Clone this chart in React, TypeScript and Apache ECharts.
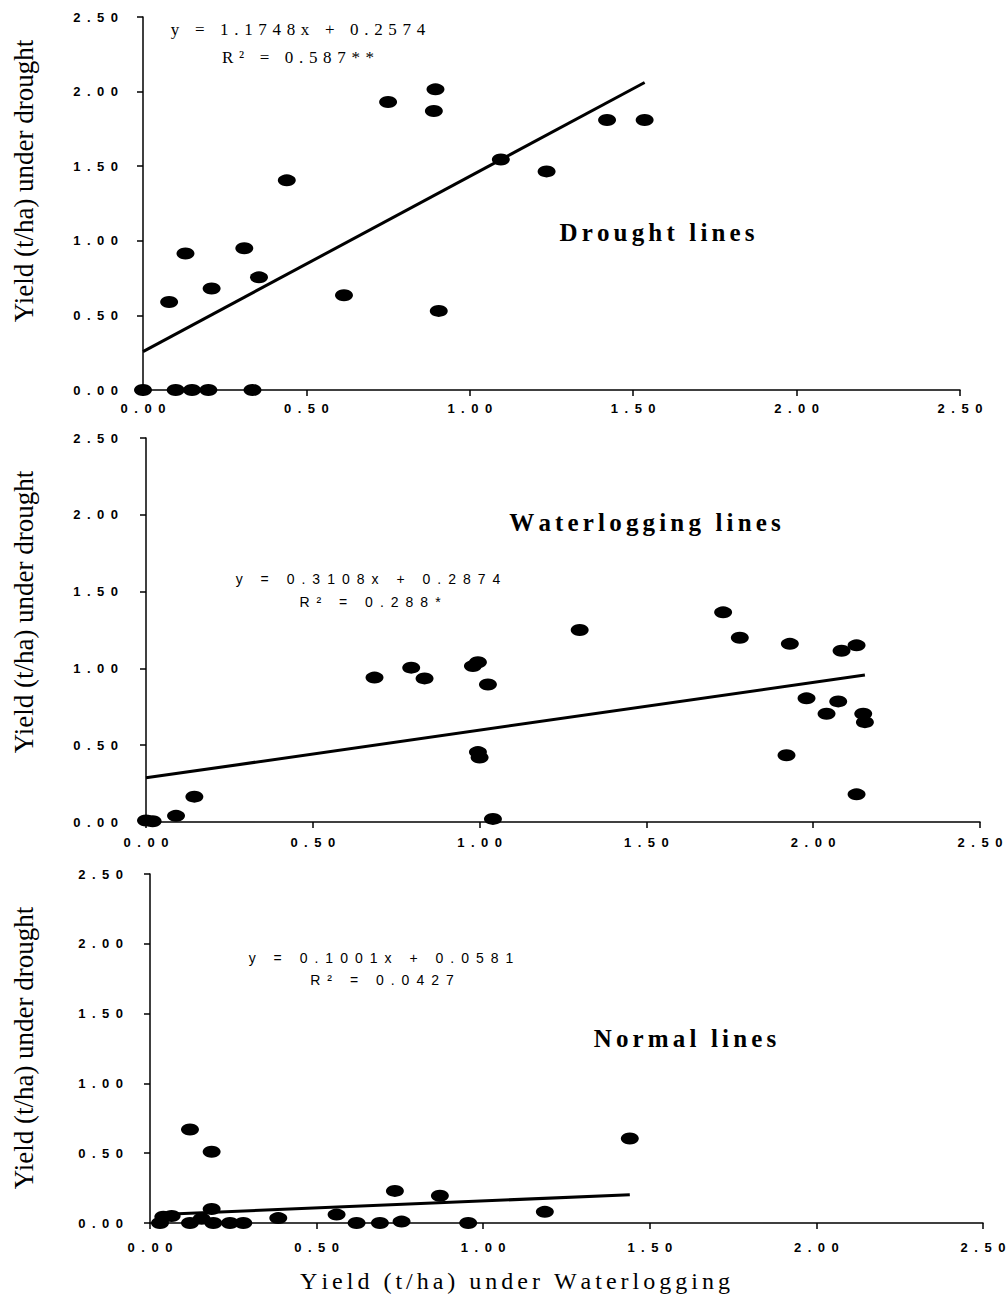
import React, { useEffect, useRef } from "react";
import * as echarts from "echarts";

// ---- Data ----
const droughtX = [0.0, 0.1, 0.15, 0.2, 0.335, 0.08, 0.13, 0.21, 0.31, 0.355, 0.44, 0.615, 0.75, 0.895, 0.89, 0.905, 1.095, 1.235, 1.42, 1.535];
const droughtY = [0.0, 0.0, 0.0, 0.0, 0.0, 0.59, 0.915, 0.68, 0.95, 0.755, 1.405, 0.635, 1.93, 2.015, 1.87, 0.53, 1.545, 1.465, 1.81, 1.81];

const waterX = [0.0, 0.02, 0.09, 0.145, 0.685, 0.795, 0.835, 0.98, 0.995, 1.025, 0.995, 1.0, 1.04, 1.3, 1.73, 1.78, 1.93, 2.085, 2.13, 1.98, 2.075, 2.04, 2.15, 2.155, 1.92, 2.13];
const waterY = [0.01, 0.005, 0.04, 0.165, 0.94, 1.005, 0.935, 1.015, 1.04, 0.895, 0.455, 0.42, 0.02, 1.25, 1.365, 1.2, 1.16, 1.115, 1.15, 0.805, 0.785, 0.705, 0.705, 0.65, 0.435, 0.18];

const normalX = [0.03, 0.04, 0.065, 0.12, 0.12, 0.155, 0.185, 0.185, 0.19, 0.24, 0.28, 0.385, 0.56, 0.62, 0.69, 0.755, 0.735, 0.87, 0.955, 1.185, 1.44];
const normalY = [0.0, 0.045, 0.05, 0.0, 0.67, 0.03, 0.1, 0.51, 0.0, 0.0, 0.0, 0.035, 0.06, 0.0, 0.0, 0.01, 0.23, 0.195, 0.0, 0.08, 0.605];

// regression coefficients [slope, intercept]
const droughtFit = [1.1748, 0.2574];
const waterFit = [0.3108, 0.2874];
const normalFit = [0.1001, 0.0581];

const equations = ["y = 1.1748x + 0.2574", "y = 0.3108x + 0.2874", "y = 0.1001x + 0.0581"];
const r2Texts = ["R\u00b2 = 0.587**", "R\u00b2 = 0.288*", "R\u00b2 = 0.0427"];
const panelTitles = ["Drought lines", "Waterlogging lines", "Normal lines"];
const yAxisName = "Yield (t/ha) under drought";
const xAxisName = "Yield (t/ha) under Waterlogging";

const axisMin = 0;
const axisMax = 2.5;
const axisStep = 0.5;

const SERIF = '"Liberation Serif", "Times New Roman", serif';
const SANS = '"Liberation Sans", Arial, sans-serif';

const spaced = (s: string, gap: string) => Array.from(s).join(gap);

export default function App() {
  const ref = useRef<HTMLDivElement>(null);

  useEffect(() => {
    if (!ref.current) return;
    const chart = echarts.init(ref.current, undefined, { renderer: "svg" });

    const grids = [
      { left: 143, top: 17, width: 817, height: 373 },
      { left: 146, top: 438, width: 834, height: 384 },
      { left: 150, top: 874, width: 833, height: 349 },
    ];
    const xLabelMargin = [12, 14, 18];
    const yLabelMargin = [25, 28, 27];

    const pairs = (xs: number[], ys: number[]) => xs.map((x, i) => [x, ys[i]]);
    const fitLine = (xs: number[], fit: number[]) => {
      const lo = Math.min(...xs);
      const hi = Math.max(...xs);
      return [
        [lo, fit[0] * lo + fit[1]],
        [hi, fit[0] * hi + fit[1]],
      ];
    };
    const sets = [
      { xs: droughtX, ys: droughtY, fit: droughtFit },
      { xs: waterX, ys: waterY, fit: waterFit },
      { xs: normalX, ys: normalY, fit: normalFit },
    ];

    const tickFmt = (v: number) => spaced(v.toFixed(2), "\u2002");
    const axisLineStyle = { color: "#000", width: 1.5 };

    const series: any[] = [];
    sets.forEach((s, i) => {
      series.push({
        type: "line",
        xAxisIndex: i,
        yAxisIndex: i,
        data: fitLine(s.xs, s.fit),
        showSymbol: false,
        symbol: "none",
        silent: true,
        lineStyle: { color: "#000", width: 3 },
        z: 2,
      });
      series.push({
        type: "scatter",
        xAxisIndex: i,
        yAxisIndex: i,
        data: pairs(s.xs, s.ys),
        symbol: "circle",
        symbolSize: [18, 12],
        itemStyle: { color: "#000", opacity: 1 },
        z: 3,
      });
    });

    const txt = (x: number, y: number, text: string, font: string, extra: any = {}) => ({
      type: "text",
      x,
      y,
      ...extra,
      style: {
        text,
        font,
        fill: "#000",
        textAlign: "center",
        textVerticalAlign: "middle",
        align: "center",
        verticalAlign: "middle",
      },
    });

    const graphic: any[] = [
      // y axis names
      txt(24, 181, yAxisName, `27px ${SERIF}`, { rotation: Math.PI / 2 }),
      txt(24, 612, yAxisName, `27px ${SERIF}`, { rotation: Math.PI / 2 }),
      txt(24, 1048, yAxisName, `27px ${SERIF}`, { rotation: Math.PI / 2 }),
      // x axis name
      txt(515, 1281, spaced(xAxisName, "\u2006"), `24px ${SERIF}`),
      // equations
      txt(298, 29, spaced(equations[0], "\u2004"), `17px ${SERIF}`),
      txt(298, 57, spaced(r2Texts[0], "\u2004"), `17px ${SERIF}`),
      txt(368, 579, spaced(equations[1], "\u2002"), `14px ${SANS}`),
      txt(370, 602, spaced(r2Texts[1], "\u2002"), `14px ${SANS}`),
      txt(381, 958, spaced(equations[2], "\u2002"), `14px ${SANS}`),
      txt(382, 980, spaced(r2Texts[2], "\u2002"), `14px ${SANS}`),
      // panel titles
      txt(657, 232, spaced(panelTitles[0], "\u2006"), `bold 25px ${SERIF}`),
      txt(645, 522, spaced(panelTitles[1], "\u2006"), `bold 25px ${SERIF}`),
      txt(685, 1038, spaced(panelTitles[2], "\u2006"), `bold 25px ${SERIF}`),
    ];

    const labelBase = {
      formatter: tickFmt,
      color: "#000",
      fontFamily: SANS,
      fontSize: 13,
      fontWeight: "bold",
      showMinLabel: true,
      showMaxLabel: true,
      hideOverlap: false,
    };

    const option: any = {
      animation: false,
      backgroundColor: "#fff",
      grid: grids.map((g) => ({ ...g, containLabel: false, outerBoundsMode: "none" })),
      xAxis: grids.map((_, i) => ({
        type: "value",
        gridIndex: i,
        min: axisMin,
        max: axisMax,
        interval: axisStep,
        axisLine: { show: true, onZero: false, lineStyle: axisLineStyle },
        axisTick: { show: true, length: 6, lineStyle: axisLineStyle },
        splitLine: { show: false },
        axisLabel: { ...labelBase, margin: xLabelMargin[i] },
      })),
      yAxis: grids.map((_, i) => ({
        type: "value",
        gridIndex: i,
        min: axisMin,
        max: axisMax,
        interval: axisStep,
        axisLine: { show: true, onZero: false, lineStyle: axisLineStyle },
        axisTick: { show: true, length: 6, lineStyle: axisLineStyle },
        splitLine: { show: false },
        axisLabel: { ...labelBase, margin: yLabelMargin[i] },
      })),
      series,
      graphic,
    };

    chart.setOption(option);
    return () => chart.dispose();
  }, []);

  return (
    <div
      ref={ref}
      style={{ position: "absolute", left: 0, top: 0, width: 1007, height: 1299, background: "#fff" }}
    />
  );
}
